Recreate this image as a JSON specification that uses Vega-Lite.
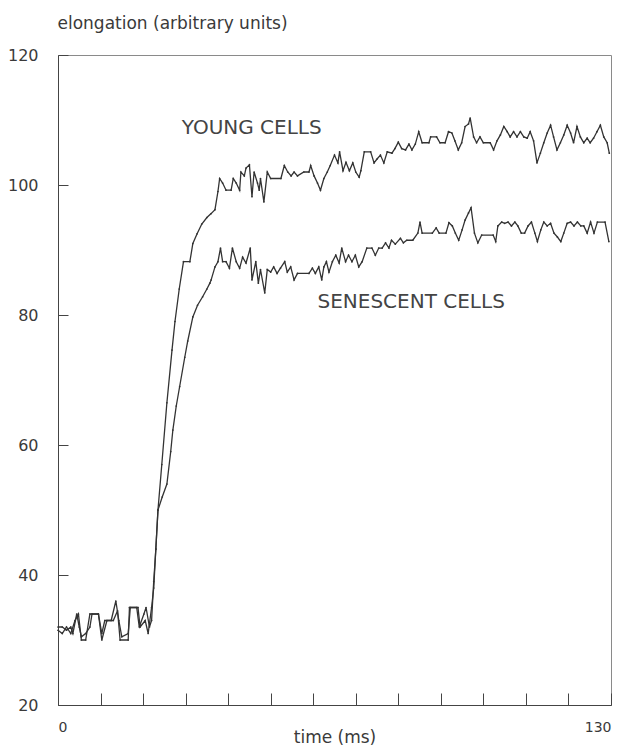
{
  "$schema": "https://vega.github.io/schema/vega-lite/v6.json",
  "width": 553,
  "height": 650,
  "autosize": {"type": "none"},
  "padding": {"left": 58, "top": 55, "right": 10, "bottom": 43},
  "background": "white",
  "config": {
    "view": {"stroke": "#8a8a8a", "strokeWidth": 1},
    "font": "DejaVu Sans",
    "axis": {"grid": false, "domainColor": "#444", "tickColor": "#444", "labelColor": "#3a3a3a", "titleColor": "#3a3a3a", "labelFont": "DejaVu Sans", "titleFont": "DejaVu Sans", "titleFontWeight": "normal"}
  },
  "datasets": {
    "young": [
      {"t":0,"v":32},{"t":1,"v":32},{"t":2,"v":31.5},{"t":3,"v":32},{"t":3.5,"v":31},{"t":4.4,"v":34},{"t":5,"v":32},{"t":5.5,"v":30.5},{"t":6.5,"v":31},{"t":7.5,"v":32},{"t":8,"v":34},{"t":9.5,"v":34},{"t":10.3,"v":31},{"t":11,"v":33},{"t":12.5,"v":33},{"t":13.6,"v":36},{"t":14.3,"v":33},{"t":15,"v":30.5},{"t":16.5,"v":31},{"t":17,"v":35},{"t":18.5,"v":35},{"t":19.1,"v":32},{"t":20.2,"v":34},{"t":20.7,"v":35},{"t":21.5,"v":32},{"t":22,"v":33},{"t":22.5,"v":39},{"t":23,"v":44},{"t":23.5,"v":50},{"t":24.4,"v":57},{"t":25.6,"v":66.5},{"t":26.8,"v":74.6},{"t":27.5,"v":79},{"t":28.5,"v":84},{"t":29.5,"v":88.2},{"t":31,"v":88.2},{"t":31.7,"v":91},{"t":32.7,"v":92.5},{"t":33.8,"v":94},{"t":35,"v":95},{"t":36,"v":95.6},{"t":36.9,"v":96.2},{"t":37.6,"v":99},{"t":38,"v":101},{"t":38.7,"v":100.3},{"t":39.5,"v":99.2},{"t":40.7,"v":99.2},{"t":41.2,"v":101},{"t":41.9,"v":100.3},{"t":42.7,"v":99.2},{"t":43,"v":102},{"t":43.8,"v":101.4},{"t":44.2,"v":102.6},{"t":45,"v":103.1},{"t":45.6,"v":98.2},{"t":46.1,"v":102},{"t":46.9,"v":100.3},{"t":47.3,"v":99.2},{"t":47.6,"v":101},{"t":48.4,"v":97.4},{"t":49.2,"v":102},{"t":50,"v":101},{"t":52.4,"v":101},{"t":53.2,"v":103},{"t":54,"v":102},{"t":54.8,"v":101.4},{"t":55.5,"v":102},{"t":56.3,"v":101.4},{"t":57.8,"v":102},{"t":59,"v":102},{"t":59.4,"v":103},{"t":60.2,"v":101.4},{"t":61,"v":100.3},{"t":61.7,"v":99.2},{"t":62.5,"v":101},{"t":63.3,"v":102},{"t":64,"v":103},{"t":65,"v":104.6},{"t":65.8,"v":103.4},{"t":66.2,"v":105.1},{"t":67,"v":102.2},{"t":67.7,"v":103.5},{"t":68.5,"v":102.2},{"t":69.3,"v":103.4},{"t":70,"v":102},{"t":70.8,"v":101.2},{"t":71.2,"v":102.2},{"t":72,"v":105.1},{"t":73.5,"v":105.1},{"t":74.3,"v":103.4},{"t":75,"v":104},{"t":75.8,"v":104.6},{"t":76.6,"v":103.4},{"t":77.4,"v":105.1},{"t":78.5,"v":104.9},{"t":79.2,"v":105.6},{"t":80,"v":106.6},{"t":80.8,"v":105.6},{"t":81.7,"v":105.4},{"t":82.5,"v":106.3},{"t":83.2,"v":105.4},{"t":84,"v":106.3},{"t":84.8,"v":108.2},{"t":85.6,"v":106.5},{"t":87.2,"v":106.5},{"t":87.6,"v":107.4},{"t":89,"v":107.4},{"t":89.8,"v":106.5},{"t":91,"v":106.5},{"t":91.8,"v":108.2},{"t":92.6,"v":108},{"t":93.3,"v":106.8},{"t":94.1,"v":105.4},{"t":94.9,"v":106.5},{"t":95.7,"v":109},{"t":96.5,"v":109.4},{"t":96.9,"v":110.3},{"t":97.7,"v":107.4},{"t":98.4,"v":106.5},{"t":99.2,"v":107.4},{"t":100,"v":106.5},{"t":101.6,"v":106.5},{"t":102.4,"v":105.4},{"t":103.2,"v":106.8},{"t":104,"v":107.7},{"t":104.8,"v":109},{"t":105.6,"v":108.2},{"t":106.3,"v":107.4},{"t":107.1,"v":108.2},{"t":107.9,"v":107.4},{"t":108.7,"v":108.2},{"t":109.5,"v":107.4},{"t":110.3,"v":107.2},{"t":111,"v":108.2},{"t":111.8,"v":106.8},{"t":112.6,"v":103.4},{"t":113.4,"v":104.9},{"t":114.2,"v":106.5},{"t":115,"v":108},{"t":115.8,"v":109.2},{"t":116.5,"v":107.4},{"t":117.3,"v":105.4},{"t":118.1,"v":106.5},{"t":118.9,"v":107.7},{"t":119.7,"v":109.2},{"t":120.5,"v":108},{"t":121.2,"v":106.5},{"t":122,"v":109},{"t":122.8,"v":107.4},{"t":123.6,"v":106.5},{"t":124.4,"v":107.2},{"t":125.1,"v":106.5},{"t":125.9,"v":107.2},{"t":126.7,"v":108.2},{"t":127.5,"v":109.2},{"t":128.3,"v":107.4},{"t":129.1,"v":106.5},{"t":129.6,"v":104.9}
    ],
    "senescent": [
      {"t":0,"v":31.5},{"t":1,"v":31},{"t":2,"v":32},{"t":3,"v":31},{"t":4,"v":33},{"t":4.8,"v":34},{"t":5.5,"v":30},{"t":6.5,"v":30},{"t":7.5,"v":34},{"t":9.5,"v":34},{"t":10.3,"v":30},{"t":11.5,"v":33},{"t":13,"v":33},{"t":14,"v":34.5},{"t":14.6,"v":30},{"t":16.5,"v":30},{"t":16.8,"v":35},{"t":18.8,"v":35},{"t":19.3,"v":32},{"t":20.5,"v":33},{"t":21.2,"v":31},{"t":22,"v":35},{"t":22.5,"v":38},{"t":23,"v":44},{"t":23.5,"v":50},{"t":24.5,"v":52},{"t":25.6,"v":54},{"t":26.5,"v":59},{"t":27,"v":62.3},{"t":27.8,"v":66},{"t":28.6,"v":69},{"t":29.8,"v":73.5},{"t":30.5,"v":76},{"t":31.7,"v":79.7},{"t":32.8,"v":81.5},{"t":34,"v":82.8},{"t":35,"v":84},{"t":35.7,"v":84.9},{"t":36,"v":85.4},{"t":36.9,"v":87.4},{"t":37.6,"v":88.2},{"t":38.2,"v":90.3},{"t":38.7,"v":88.2},{"t":39.5,"v":88.2},{"t":40.3,"v":87.2},{"t":41,"v":90.3},{"t":41.9,"v":88.2},{"t":42.7,"v":87.2},{"t":43.4,"v":88.9},{"t":44.2,"v":88},{"t":45.2,"v":90.3},{"t":45.6,"v":85.4},{"t":46.5,"v":88.2},{"t":47.1,"v":84.9},{"t":47.6,"v":87},{"t":48.6,"v":83.4},{"t":49.2,"v":87},{"t":50,"v":86.6},{"t":50.7,"v":87.4},{"t":51.5,"v":86.4},{"t":52.3,"v":87.2},{"t":53.3,"v":88.2},{"t":53.9,"v":86.6},{"t":54.7,"v":87.4},{"t":55.5,"v":85.4},{"t":56.3,"v":86.4},{"t":59,"v":86.4},{"t":59.8,"v":87.2},{"t":60.5,"v":86.4},{"t":61.3,"v":87.4},{"t":62,"v":85.4},{"t":62.5,"v":87.4},{"t":63.1,"v":88.2},{"t":63.7,"v":86.6},{"t":64.5,"v":88.2},{"t":65.3,"v":89.2},{"t":66.1,"v":88},{"t":66.7,"v":90.3},{"t":67.6,"v":88.2},{"t":68.3,"v":89.2},{"t":69.1,"v":88.2},{"t":69.9,"v":89.2},{"t":70.7,"v":87.4},{"t":71.5,"v":88.2},{"t":72.6,"v":90.3},{"t":73.8,"v":90.3},{"t":74.6,"v":89.2},{"t":75.4,"v":90.3},{"t":76.2,"v":90.3},{"t":77,"v":91.1},{"t":77.8,"v":90.3},{"t":78.4,"v":91.5},{"t":79.3,"v":90.9},{"t":80.5,"v":91.8},{"t":81.2,"v":91.1},{"t":82,"v":91.5},{"t":83.4,"v":91.5},{"t":84.6,"v":92.6},{"t":85.1,"v":94.3},{"t":85.6,"v":92.6},{"t":88,"v":92.6},{"t":88.9,"v":93.4},{"t":89.6,"v":92.6},{"t":91.2,"v":92.6},{"t":91.9,"v":94.2},{"t":92.7,"v":93.7},{"t":93.4,"v":92.6},{"t":94.2,"v":91.5},{"t":95,"v":93.1},{"t":95.7,"v":94.6},{"t":96.5,"v":95.7},{"t":97.1,"v":96.5},{"t":97.9,"v":92.6},{"t":98.7,"v":91.1},{"t":99.6,"v":92.3},{"t":102.3,"v":92.3},{"t":102.9,"v":91.3},{"t":103.4,"v":93.7},{"t":104.3,"v":94.3},{"t":105,"v":94.1},{"t":105.8,"v":94.3},{"t":106.6,"v":93.7},{"t":107.4,"v":94.3},{"t":108.1,"v":93.7},{"t":108.9,"v":92.6},{"t":109.7,"v":92.6},{"t":110.5,"v":93.7},{"t":111.3,"v":94.3},{"t":112.1,"v":92.6},{"t":112.7,"v":91.3},{"t":113.5,"v":93.1},{"t":114.2,"v":94.3},{"t":115,"v":93.7},{"t":115.8,"v":94.1},{"t":116.6,"v":92.6},{"t":117.4,"v":92},{"t":118.2,"v":91.3},{"t":118.9,"v":92.6},{"t":119.7,"v":94.1},{"t":120.5,"v":94.3},{"t":121.3,"v":93.7},{"t":122.1,"v":94.3},{"t":122.9,"v":93.7},{"t":123.6,"v":93.7},{"t":124.4,"v":92.6},{"t":125.2,"v":94.3},{"t":126,"v":92.6},{"t":126.8,"v":94.3},{"t":128.6,"v":94.3},{"t":129.5,"v":91.3}
    ],
    "labels": [
      {"t": 29.1, "v": 108.8, "label": "YOUNG CELLS"},
      {"t": 61, "v": 82, "label": "SENESCENT CELLS"}
    ]
  },
  "layer": [
    {
      "data": {"name": "young"},
      "mark": {"type": "line", "color": "#333", "strokeWidth": 1.3, "point": {"size": 3, "filled": true, "color": "#333"}},
      "encoding": {
        "x": {"field": "t", "type": "quantitative", "scale": {"domain": [0, 130], "nice": false},
          "axis": {"values": [0,10,20,30,40,50,60,70,80,90,100,110,120,130], "labelExpr": "datum.value == 0 || datum.value == 130 ? datum.label : ''", "tickSize": -12, "labelPadding": 27, "labelFontSize": 14, "labelAngle": 0, "title": "time (ms)", "titleFontSize": 17, "titleBaseline": "alphabetic", "titleY": 37}},
        "y": {"field": "v", "type": "quantitative", "scale": {"domain": [20, 120], "nice": false},
          "axis": {"values": [20,40,60,80,100,120], "tickSize": -10, "labelPadding": 30, "labelFontSize": 16, "title": "elongation (arbitrary units)", "titleAngle": 0, "titleAlign": "left", "titleBaseline": "alphabetic", "titleX": -1, "titleY": -27, "titleFontSize": 17}}
      }
    },
    {
      "data": {"name": "senescent"},
      "mark": {"type": "line", "color": "#333", "strokeWidth": 1.3, "point": {"size": 3, "filled": true, "color": "#333"}},
      "encoding": {
        "x": {"field": "t", "type": "quantitative"},
        "y": {"field": "v", "type": "quantitative"}
      }
    },
    {
      "data": {"name": "labels"},
      "mark": {"type": "text", "align": "left", "baseline": "middle", "fontSize": 20, "color": "#444", "font": "DejaVu Sans"},
      "encoding": {
        "x": {"field": "t", "type": "quantitative"},
        "y": {"field": "v", "type": "quantitative"},
        "text": {"field": "label"}
      }
    }
  ]
}
